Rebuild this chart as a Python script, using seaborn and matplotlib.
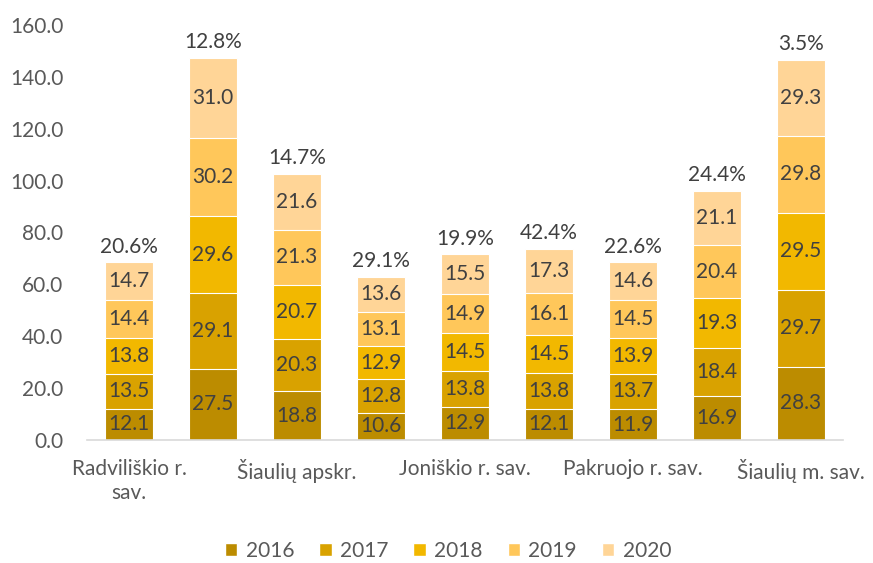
import numpy as np
import pandas as pd
import matplotlib
matplotlib.use("Agg")
import matplotlib.pyplot as plt
import seaborn as sns
from matplotlib.patches import Patch

# categories (every second label is hidden on the original chart)
categories = ["Radviliškio r. sav.", "Lietuva", "Šiaulių apskr.", "Akmenės r. sav.",
              "Joniškio r. sav.", "Kelmės r. sav.", "Pakruojo r. sav.", "Šiaulių r. sav.",
              "Šiaulių m. sav."]
tick_labels = ["Radviliškio r.\nsav.", "", "Šiaulių apskr.", "", "Joniškio r. sav.", "",
               "Pakruojo r. sav.", "", "Šiaulių m. sav."]
years = ["2016", "2017", "2018", "2019", "2020"]

v2016 = [12.1, 27.5, 18.8, 10.6, 12.9, 12.1, 11.9, 16.9, 28.3]
v2017 = [13.5, 29.1, 20.3, 12.8, 13.8, 13.8, 13.7, 18.4, 29.7]
v2018 = [13.8, 29.6, 20.7, 12.9, 14.5, 14.5, 13.9, 19.3, 29.5]
v2019 = [14.4, 30.2, 21.3, 13.1, 14.9, 16.1, 14.5, 20.4, 29.8]
v2020 = [14.7, 31.0, 21.6, 13.6, 15.5, 17.3, 14.6, 21.1, 29.3]
change = ["20.6%", "12.8%", "14.7%", "29.1%", "19.9%", "42.4%", "22.6%", "24.4%", "3.5%"]

colors = ["#BC8C00", "#D9A200", "#F2B800", "#FFC75A", "#FFD597"]

series = [v2016, v2017, v2018, v2019, v2020]
df = pd.DataFrame({"cat": categories})
cum = np.zeros(len(categories))
for y, vals in zip(years, series):
    cum = cum + np.array(vals)
    df["cum" + y] = cum

sns.set_style("white")
plt.rcParams["font.family"] = ["Lato", "DejaVu Sans"]

fig = plt.figure(figsize=(8.73, 5.63), dpi=100)
ax = fig.add_axes([87 / 873, 123 / 563, 756 / 873, 415 / 563])

# draw stacked bars from the top layer down
for y, c in reversed(list(zip(years, colors))):
    sns.barplot(data=df, x="cat", y="cum" + y, color=c, width=0.57, saturation=1,
                edgecolor="white", linewidth=0.8, ax=ax, zorder=2)

# segment labels
for i in range(len(categories)):
    bottom = 0
    for vals in series:
        v = vals[i]
        ax.text(i, bottom + v / 2, f"{v:.1f}", ha="center", va="center",
                fontsize=15, color="#404040", zorder=3)
        bottom += v
    ax.annotate(change[i], (i, bottom), xytext=(0, 4), textcoords="offset points",
                ha="center", va="bottom", fontsize=15, color="#404040")

ax.set_xlim(-0.5, len(categories) - 0.5)
ax.set_ylim(0, 160)
ax.set_yticks(np.arange(0, 161, 20))
ax.set_yticklabels([f"{t:.1f}" for t in np.arange(0, 161, 20)])
ax.set_xticks(range(len(categories)))
ax.set_xticklabels(tick_labels, multialignment="center")
ax.tick_params(axis="y", length=0, pad=17, labelsize=15, labelcolor="#595959")
ax.tick_params(axis="x", length=0, pad=14, labelsize=15, labelcolor="#595959")
ax.set_xlabel("")
ax.set_ylabel("")
for s in ["top", "right", "left"]:
    ax.spines[s].set_visible(False)
ax.spines["bottom"].set_color("#D9D9D9")
ax.spines["bottom"].set_linewidth(1.2)
ax.spines["bottom"].set_zorder(4)

handles = [Patch(facecolor=c, label=y) for y, c in zip(years, colors)]
fig.legend(handles=handles, loc="center", bbox_to_anchor=(448 / 873, 12 / 563),
           ncol=5, frameon=False, fontsize=15, labelcolor="#595959",
           handlelength=0.6, handleheight=0.6, handletextpad=0.4, columnspacing=1.2)

fig.savefig("out.png", dpi=100)
